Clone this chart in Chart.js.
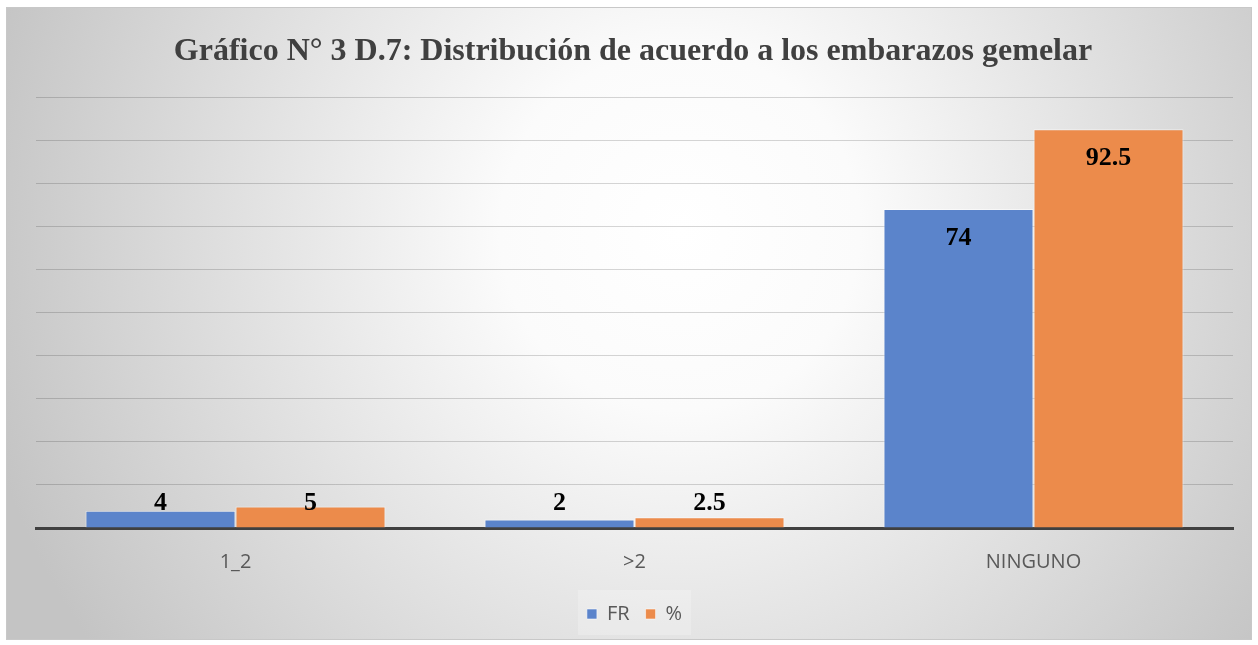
<!DOCTYPE html>
<html>
<head>
<meta charset="utf-8">
<script src="https://cdn.jsdelivr.net/npm/chart.js@4"></script>
<style>
  html, body { margin: 0; padding: 0; background: #fff; }
  #wrap { width: 1258px; height: 645px; }
</style>
</head>
<body>
<div id="wrap"><canvas id="gemelar" width="1258" height="645"></canvas></div>
<script>
var categories = ['1_2', '>2', 'NINGUNO'];
var frValues = [4, 2, 74];
var pctValues = [5, 2.5, 92.5];
var seriesNames = ['FR', '%'];
var chartTitle = 'Gráfico N° 3 D.7: Distribución de acuerdo a los embarazos gemelar';

// fondo degradado y titulo
var fondo = {
    id: 'fondo',
    beforeDraw: function (chart) {
        var ctx = chart.ctx;
        ctx.save();
        ctx.fillStyle = '#ffffff';
        ctx.fillRect(0, 0, chart.width, chart.height);
        var g = ctx.createRadialGradient(680, 230, 0, 680, 230, 720);
        g.addColorStop(0, '#ffffff');
        g.addColorStop(0.25, '#fbfbfb');
        g.addColorStop(1, '#c4c4c4');
        ctx.fillStyle = g;
        ctx.fillRect(6, 7, 1246, 633);
        ctx.strokeStyle = '#c8c8c8';
        ctx.lineWidth = 1;
        ctx.strokeRect(6.5, 7.5, 1245, 632);
        ctx.font = 'bold 32px "Liberation Serif", "Times New Roman", serif';
        ctx.fillStyle = '#404040';
        ctx.textAlign = 'center';
        ctx.textBaseline = 'middle';
        ctx.fillText(chartTitle, 633, 52);
        // caja clara detras de la leyenda
        ctx.fillStyle = 'rgba(255,255,255,0.22)';
        ctx.fillRect(578, 590, 113, 45);
        ctx.restore();
    }
};

// etiquetas de valores
var etiquetas = {
    id: 'etiquetas',
    afterDatasetsDraw: function (chart) {
        var ctx = chart.ctx;
        ctx.save();
        ctx.font = 'bold 26px "Liberation Serif", "Times New Roman", serif';
        ctx.fillStyle = '#000000';
        ctx.textAlign = 'center';
        ctx.textBaseline = 'middle';
        chart.data.datasets.forEach(function (ds, i) {
            chart.getDatasetMeta(i).data.forEach(function (bar, j) {
                var h = bar.base - bar.y;
                var y = h < 40 ? bar.base - 24 : bar.y + 29;
                ctx.fillText(String(ds.data[j]), bar.x, y);
            });
        });
        ctx.restore();
    }
};

var chartGemelar = new Chart(document.getElementById('gemelar'), {
    type: 'bar',
    data: {
        labels: categories,
        datasets: [{
            label: seriesNames[0],
            data: frValues,
            backgroundColor: '#5b84cb',
            borderColor: 'rgba(255,255,255,0.55)',
            borderWidth: 1,
            categoryPercentage: 0.752,
            barPercentage: 1
        }, {
            label: seriesNames[1],
            data: pctValues,
            backgroundColor: '#ec8b4b',
            borderColor: 'rgba(255,255,255,0.55)',
            borderWidth: 1,
            categoryPercentage: 0.752,
            barPercentage: 1
        }]
    },
    options: {
        responsive: false,
        animation: false,
        layout: {
            padding: { left: 36, right: 25, top: 97, bottom: 11 }
        },
        scales: {
            x: {
                grid: { display: false },
                border: { display: true, color: '#404040', width: 3 },
                ticks: {
                    color: '#595959',
                    font: { family: '"Open Sans", "DejaVu Sans", sans-serif', size: 20 },
                    padding: 14
                }
            },
            y: {
                min: 0,
                max: 100,
                ticks: { display: false, stepSize: 10 },
                border: { display: false },
                grid: { color: 'rgba(0,0,0,0.16)', lineWidth: 1, drawTicks: false }
            }
        },
        plugins: {
            legend: {
                display: true,
                position: 'bottom',
                labels: {
                    color: '#595959',
                    boxWidth: 10,
                    boxHeight: 10,
                    font: { family: '"Open Sans", "DejaVu Sans", sans-serif', size: 20 },
                    padding: 16
                }
            },
            title: { display: false },
            tooltip: { enabled: false }
        }
    },
    plugins: [fondo, etiquetas]
});
</script>
</body>
</html>
